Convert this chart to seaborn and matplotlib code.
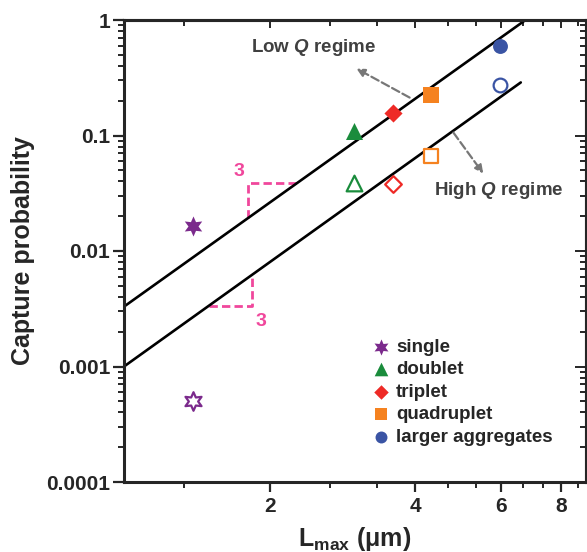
import numpy as np
import pandas as pd
import matplotlib.pyplot as plt
import seaborn as sns

# dados
tipos = ['single', 'doublet', 'triplet', 'quadruplet', 'larger aggregates']
cores = ['#7B2A8C', '#1A8C3C', '#EE2A26', '#F58220', '#3A54A4']
marcadores = [(6, 1, 0), '^', 'D', 's', 'o']
tamanhos = [210, 150, 85, 130, 115]
lmax = [1.39, 2.99, 3.59, 4.31, 5.99]
prob_baixo_q = [0.0163, 0.110, 0.158, 0.222, 0.60]
prob_alto_q = [0.00050, 0.039, 0.0377, 0.067, 0.271]

# retas de inclinacao 3 (extremidades)
reta_x_sup = [1.0, 6.75]
reta_y_sup = [0.0033, 1.0]
reta_x_inf = [1.0, 6.6]
reta_y_inf = [0.001, 0.288]

# triangulos de inclinacao
tri_sup_x = [1.80, 1.80, 2.28]
tri_sup_y = [0.0192, 0.039, 0.039]
tri_inf_x = [1.50, 1.84, 1.84]
tri_inf_y = [0.00337, 0.00337, 0.0062]

sns.set_style('ticks')
plt.rcParams['font.family'] = ['Liberation Sans', 'DejaVu Sans']
plt.rcParams['font.weight'] = 'bold'
plt.rcParams['axes.labelweight'] = 'bold'
plt.rcParams['mathtext.fontset'] = 'custom'
plt.rcParams['mathtext.rm'] = 'Liberation Sans:bold'
plt.rcParams['mathtext.bf'] = 'Liberation Sans:bold'
plt.rcParams['mathtext.it'] = 'Liberation Sans:italic:bold'
plt.rcParams['mathtext.bfit'] = 'Liberation Sans:italic:bold'

fig = plt.figure(figsize=(5.87, 5.52), dpi=100)
ax = fig.add_axes([124 / 587, 1 - 482 / 552, 462 / 587, 462 / 552])

# retas
df_sup = pd.DataFrame({'x': reta_x_sup, 'y': reta_y_sup})
df_inf = pd.DataFrame({'x': reta_x_inf, 'y': reta_y_inf})
sns.lineplot(data=df_sup, x='x', y='y', color='black', lw=1.9, ax=ax, zorder=2)
sns.lineplot(data=df_inf, x='x', y='y', color='black', lw=1.9, ax=ax, zorder=2)

# triangulos rosa
rosa = '#F0479C'
ax.plot(tri_sup_x, tri_sup_y, color=rosa, ls=(0, (3.0, 1.5)), lw=2.0, zorder=1)
ax.plot(tri_inf_x, tri_inf_y, color=rosa, ls=(0, (3.0, 1.5)), lw=2.0, zorder=1)
ax.text(1.73, 0.041, '3', color=rosa, fontsize=14, ha='center', va='bottom')
ax.text(1.92, 0.0029, '3', color=rosa, fontsize=14, ha='center', va='top')

# pontos
for nome, m, c, s, x, yb, ya in zip(tipos, marcadores, cores, tamanhos, lmax, prob_baixo_q, prob_alto_q):
    sns.scatterplot(x=[x], y=[yb], marker=m, color=c, s=s, linewidth=0, ax=ax, label=nome, zorder=4)
    sns.scatterplot(x=[x], y=[ya], marker=m, facecolor='white', edgecolor=c, linewidth=1.6,
                    s=s * 0.85, ax=ax, zorder=4)

ax.set_xscale('log')
ax.set_yscale('log')
ax.set_xlim(1, 9)
ax.set_ylim(1e-4, 1)

# setas e textos
cinza = '#404040'
ax.annotate('', xy=(3.02, 0.38), xytext=(3.89, 0.213),
            arrowprops=dict(arrowstyle='-|>', color='#777777', lw=1.6, ls='--',
                            mutation_scale=12, shrinkA=0, shrinkB=0))
ax.annotate('', xy=(5.52, 0.0469), xytext=(4.79, 0.106),
            arrowprops=dict(arrowstyle='-|>', color='#777777', lw=1.6, ls='--',
                            mutation_scale=12, shrinkA=0, shrinkB=0))
ax.text(2.46, 0.578, r'Low $\mathbfit{Q}$ regime', color=cinza, fontsize=13.5,
        ha='center', va='center')
ax.text(5.93, 0.0334, r'High $\mathbfit{Q}$ regime', color=cinza, fontsize=13.5,
        ha='center', va='center')

# eixos
ax.set_xticks([2, 4, 6, 8])
ax.set_xticklabels(['2', '4', '6', '8'])
ax.set_xticks([4 / 3, 8 / 3, 10 / 3, 14 / 3, 16 / 3, 20 / 3, 22 / 3, 26 / 3], minor=True)
ax.xaxis.set_minor_formatter(plt.NullFormatter())
ax.set_yticks([1e-4, 1e-3, 1e-2, 1e-1, 1])
ax.set_yticklabels(['0.0001', '0.001', '0.01', '0.1', '1'])
ax.tick_params(which='major', labelsize=15, width=1.6, direction='out')
ax.tick_params(axis='x', which='major', length=7, pad=4)
ax.tick_params(axis='y', which='major', length=8, pad=2)
ax.tick_params(which='minor', length=4.5, width=1.4, direction='out')
for sp in ax.spines.values():
    sp.set_linewidth(2.2)
    sp.set_visible(True)

top = ax.secondary_xaxis('top')
top.set_xticks([2, 4, 6, 8])
top.set_xticks([4 / 3, 8 / 3, 10 / 3, 14 / 3, 16 / 3, 20 / 3, 22 / 3, 26 / 3], minor=True)
top.tick_params(which='both', direction='in', labeltop=False, width=1.4)
top.tick_params(which='major', length=6)
top.tick_params(which='minor', length=4)
top.xaxis.set_minor_formatter(plt.NullFormatter())
top.spines['top'].set_linewidth(2.2)

right = ax.secondary_yaxis('right')
right.set_yticks([1e-4, 1e-3, 1e-2, 1e-1, 1])
right.tick_params(which='both', direction='in', labelright=False, width=1.4)
right.tick_params(which='major', length=8)
right.tick_params(which='minor', length=4)
right.yaxis.set_minor_formatter(plt.NullFormatter())
right.spines['right'].set_linewidth(2.2)

ax.set_xlabel(r'L$_{\mathbf{max}}$ (μm)', fontsize=18, fontweight='bold', labelpad=6)
ax.set_ylabel('Capture probability', fontsize=18, fontweight='bold', labelpad=8)

leg = ax.legend(loc='upper left', bbox_to_anchor=(0.52, 0.33), frameon=False, fontsize=13.5,
                handlelength=0.8, handletextpad=0.4, labelspacing=0.28, borderpad=0,
                markerscale=0.8)

fig.savefig('out.png', dpi=100)
